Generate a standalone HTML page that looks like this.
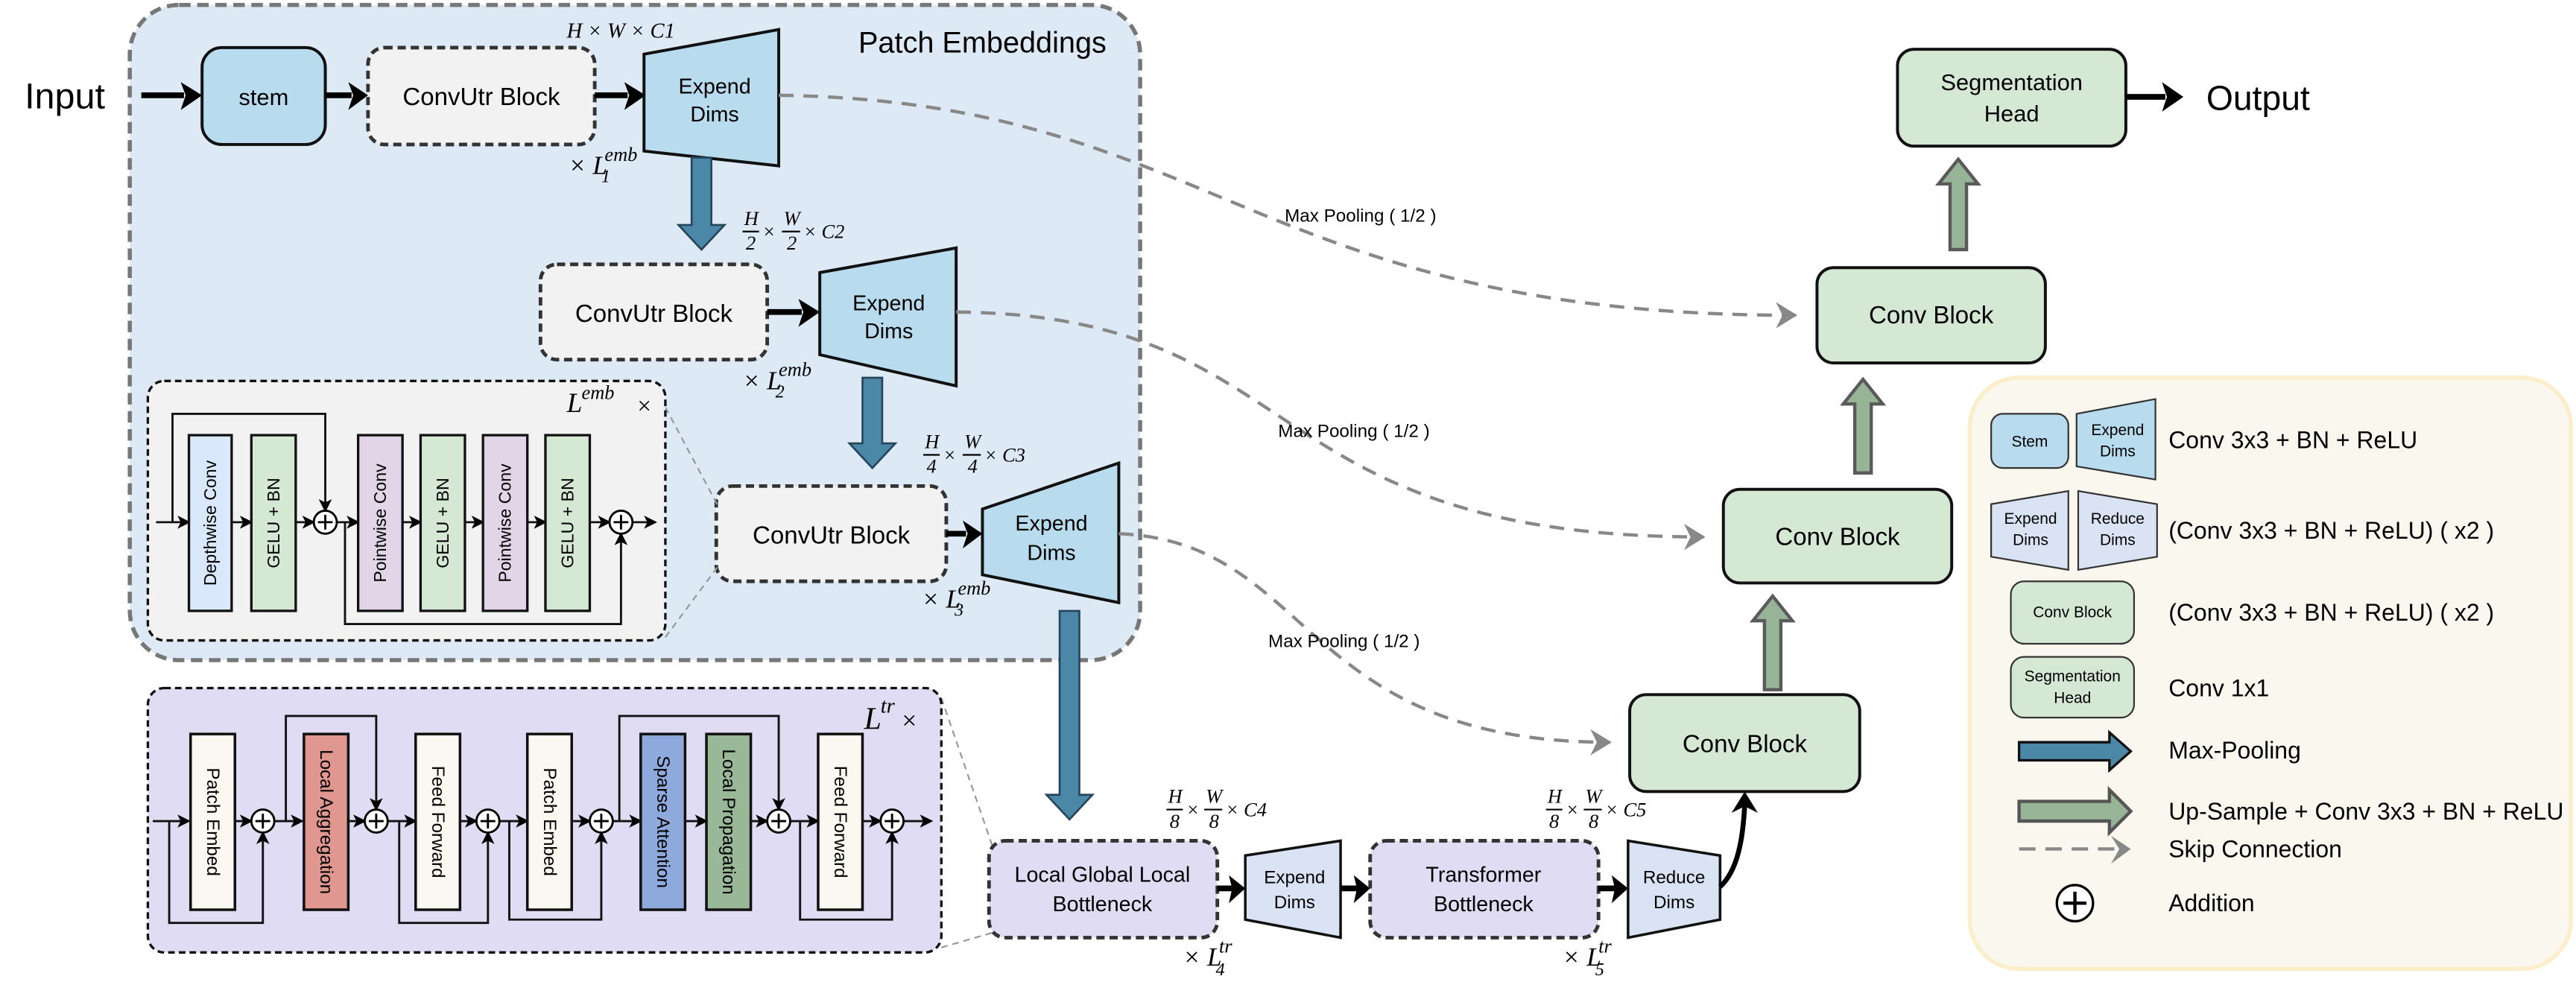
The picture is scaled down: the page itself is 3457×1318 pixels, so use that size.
<!DOCTYPE html>
<html><head><meta charset="utf-8"><style>
html,body{margin:0;padding:0;background:#fff;}
svg{display:block;}
text{font-family:"Liberation Sans",sans-serif;fill:#000;}
.m{font-family:"Liberation Serif",serif;font-style:italic;}
</style></head><body>
<svg width="3457" height="1318" viewBox="0 0 1568 598" preserveAspectRatio="none" xmlns="http://www.w3.org/2000/svg">
<defs>
<marker id="ah" markerWidth="8" markerHeight="8" refX="7" refY="4" orient="auto" markerUnits="userSpaceOnUse"><path d="M0,0 L8,4 L0,8 L2,4 Z" fill="#000"/></marker>
<marker id="gh" markerWidth="14" markerHeight="16" refX="12" refY="8" orient="auto" markerUnits="userSpaceOnUse"><path d="M0,0 L13,8 L0,16 L4,8 Z" fill="#888"/></marker>
</defs>

<rect x="79" y="3" width="615" height="399" rx="30" fill="#dde9f5" stroke="#777" stroke-width="2.5" stroke-dasharray="7,4"/>
<text x="598" y="32" font-size="18" text-anchor="middle">Patch Embeddings</text>

<text x="15" y="66" font-size="22">Input</text>
<line x1="86" y1="58" x2="112" y2="58" stroke="#000" stroke-width="3.5"/>
<path d="M110,50 L123,58 L110,67 L113,58Z" fill="#000"/>
<rect x="123" y="29" width="75" height="59" rx="12" fill="#b9dbee" stroke="#111" stroke-width="1.8"/>
<text x="160.5" y="64" font-size="14" text-anchor="middle">stem</text>
<line x1="198" y1="58" x2="214" y2="58" stroke="#000" stroke-width="3.5"/>
<path d="M212,50 L224,58 L212,67 L215,58Z" fill="#000"/>
<rect x="224" y="29" width="138" height="59" rx="10" fill="#f2f2f2" stroke="#333" stroke-width="2.2" stroke-dasharray="5,3"/>
<text x="293" y="64" font-size="15" text-anchor="middle">ConvUtr Block</text>
<line x1="362" y1="58" x2="382" y2="58" stroke="#000" stroke-width="3.5"/>
<path d="M380,50 L393,58 L380,67 L383,58Z" fill="#000"/>
<polygon points="392,33 474,18 474,101 392,92" fill="#b9dbee" stroke="#111" stroke-width="1.8"/>
<text x="435" y="57" font-size="13" text-anchor="middle">Expend</text>
<text x="435" y="74" font-size="13" text-anchor="middle">Dims</text>
<text class="m" x="345" y="23" font-size="13">H × W × C1</text>
<text class="m" x="346" y="106" font-size="16">× L</text><text class="m" x="368" y="98" font-size="12">emb</text><text class="m" x="366" y="111" font-size="11">1</text>

<path d="M421,96 H433 V137 H441 L427,152 L413,137 H421 Z" fill="#4b88a8" stroke="#26455a" stroke-width="1.2"/>
<text class="m" x="453" y="137" font-size="12">H</text><line x1="452" y1="141" x2="462" y2="141" stroke="#000"/><text class="m" x="454" y="152" font-size="12">2</text>
<text class="m" x="464" y="145" font-size="12">×</text>
<text class="m" x="477" y="137" font-size="12">W</text><line x1="476" y1="141" x2="487" y2="141" stroke="#000"/><text class="m" x="479" y="152" font-size="12">2</text>
<text class="m" x="489" y="145" font-size="12">× C2</text>

<rect x="329" y="161" width="138" height="58" rx="10" fill="#f2f2f2" stroke="#333" stroke-width="2.2" stroke-dasharray="5,3"/>
<text x="398" y="196" font-size="15" text-anchor="middle">ConvUtr Block</text>
<line x1="467" y1="190" x2="488" y2="190" stroke="#000" stroke-width="3.5"/>
<path d="M486,182 L499,190 L486,199 L489,190Z" fill="#000"/>
<polygon points="499,166 582,151 582,235 499,216" fill="#b9dbee" stroke="#111" stroke-width="1.8"/>
<text x="541" y="189" font-size="13" text-anchor="middle">Expend</text>
<text x="541" y="206" font-size="13" text-anchor="middle">Dims</text>
<text class="m" x="452" y="237" font-size="16">× L</text><text class="m" x="474" y="229" font-size="12">emb</text><text class="m" x="472" y="242" font-size="11">2</text>

<path d="M525,230 H537 V270 H545 L531,285 L517,270 H525 Z" fill="#4b88a8" stroke="#26455a" stroke-width="1.2"/>
<text class="m" x="563" y="273" font-size="12">H</text><line x1="562" y1="277" x2="572" y2="277" stroke="#000"/><text class="m" x="564" y="288" font-size="12">4</text>
<text class="m" x="574" y="281" font-size="12">×</text>
<text class="m" x="587" y="273" font-size="12">W</text><line x1="586" y1="277" x2="597" y2="277" stroke="#000"/><text class="m" x="589" y="288" font-size="12">4</text>
<text class="m" x="599" y="281" font-size="12">× C3</text>

<rect x="436" y="296" width="140" height="58" rx="10" fill="#f2f2f2" stroke="#333" stroke-width="2.2" stroke-dasharray="5,3"/>
<text x="506" y="331" font-size="15" text-anchor="middle">ConvUtr Block</text>
<line x1="576" y1="325" x2="588" y2="325" stroke="#000" stroke-width="3.5"/>
<path d="M586,317 L598,325 L586,334 L589,325Z" fill="#000"/>
<polygon points="598,310 681,282 681,367 598,350" fill="#b9dbee" stroke="#111" stroke-width="1.8"/>
<text x="640" y="323" font-size="13" text-anchor="middle">Expend</text>
<text x="640" y="341" font-size="13" text-anchor="middle">Dims</text>
<text class="m" x="561" y="370" font-size="16">× L</text><text class="m" x="583" y="362" font-size="12">emb</text><text class="m" x="581" y="375" font-size="11">3</text>

<line x1="405" y1="248" x2="437" y2="308" stroke="#999" stroke-width="1" stroke-dasharray="4,3"/>
<line x1="405" y1="388" x2="437" y2="345" stroke="#999" stroke-width="1" stroke-dasharray="4,3"/>
<rect x="90" y="232" width="315" height="158" rx="10" fill="#f2f2f2" stroke="#111" stroke-width="1.5" stroke-dasharray="4,2.5"/>
<text class="m" x="345" y="251" font-size="17">L</text><text class="m" x="354" y="243" font-size="12">emb</text><text class="m" x="387" y="252" font-size="15">×</text>
<g stroke="#111" stroke-width="1.3" fill="none">
<line x1="95" y1="318" x2="115" y2="318" marker-end="url(#ah)"/>
<polyline points="105,318 105,252 198,252 198,311" marker-end="url(#ah)"/>
<line x1="141" y1="318" x2="153" y2="318" marker-end="url(#ah)"/>
<line x1="180" y1="318" x2="191" y2="318" marker-end="url(#ah)"/>
<line x1="205" y1="318" x2="218" y2="318" marker-end="url(#ah)"/>
<polyline points="210,318 210,380 378,380 378,325" marker-end="url(#ah)"/>
<line x1="245" y1="318" x2="256" y2="318" marker-end="url(#ah)"/>
<line x1="283" y1="318" x2="294" y2="318" marker-end="url(#ah)"/>
<line x1="321" y1="318" x2="332" y2="318" marker-end="url(#ah)"/>
<line x1="359" y1="318" x2="371" y2="318" marker-end="url(#ah)"/>
<line x1="385" y1="318" x2="399" y2="318" marker-end="url(#ah)"/>
</g>
<g stroke="#111" stroke-width="1.5">
<rect x="115" y="265" width="26" height="107" fill="#dae8fc"/>
<rect x="153" y="265" width="27" height="107" fill="#d5e8d4"/>
<rect x="218" y="265" width="27" height="107" fill="#e1d5e7"/>
<rect x="256" y="265" width="27" height="107" fill="#d5e8d4"/>
<rect x="294" y="265" width="27" height="107" fill="#e1d5e7"/>
<rect x="332" y="265" width="27" height="107" fill="#d5e8d4"/>
</g>
<g font-size="10.5" text-anchor="middle">
<text transform="translate(131.5,318.5) rotate(-90)">Depthwise Conv</text>
<text transform="translate(170,318.5) rotate(-90)">GELU + BN</text>
<text transform="translate(235,318.5) rotate(-90)">Pointwise Conv</text>
<text transform="translate(273,318.5) rotate(-90)">GELU + BN</text>
<text transform="translate(311,318.5) rotate(-90)">Pointwise Conv</text>
<text transform="translate(349,318.5) rotate(-90)">GELU + BN</text>
</g>
<g stroke="#000" stroke-width="1.3">
<circle cx="198" cy="318" r="7" fill="#fff"/><line x1="193.5" y1="318" x2="202.5" y2="318"/><line x1="198" y1="313.5" x2="198" y2="322.5"/>
<circle cx="378" cy="318" r="7" fill="#fff"/><line x1="373.5" y1="318" x2="382.5" y2="318"/><line x1="378" y1="313.5" x2="378" y2="322.5"/>
</g>

<path d="M645,372 H657 V484 H665 L651,499 L637,484 H645 Z" fill="#4b88a8" stroke="#26455a" stroke-width="1.2"/>

<line x1="573" y1="425" x2="604" y2="515" stroke="#999" stroke-width="1" stroke-dasharray="4,3"/>
<line x1="573" y1="577" x2="604" y2="568" stroke="#999" stroke-width="1" stroke-dasharray="4,3"/>
<rect x="90" y="419" width="483" height="161" rx="10" fill="#e0dcf4" stroke="#111" stroke-width="1.5" stroke-dasharray="4,2.5"/>
<text class="m" x="526" y="444" font-size="19">L</text><text class="m" x="536" y="434" font-size="13">tr</text><text class="m" x="548" y="444" font-size="16">×</text>
<g stroke="#111" stroke-width="1.3" fill="none">
<line x1="93" y1="500" x2="115" y2="500" marker-end="url(#ah)"/>
<polyline points="103,500 103,562 160,562 160,507" marker-end="url(#ah)"/>
<line x1="143" y1="500" x2="153" y2="500" marker-end="url(#ah)"/>
<line x1="167" y1="500" x2="184" y2="500" marker-end="url(#ah)"/>
<polyline points="174,500 174,436 229,436 229,493" marker-end="url(#ah)"/>
<line x1="212" y1="500" x2="222" y2="500" marker-end="url(#ah)"/>
<line x1="236" y1="500" x2="253" y2="500" marker-end="url(#ah)"/>
<polyline points="243,500 243,562 297,562 297,507" marker-end="url(#ah)"/>
<line x1="280" y1="500" x2="290" y2="500" marker-end="url(#ah)"/>
<line x1="304" y1="500" x2="321" y2="500" marker-end="url(#ah)"/>
<polyline points="310,500 310,560 366,560 366,507" marker-end="url(#ah)"/>
<line x1="348" y1="500" x2="359" y2="500" marker-end="url(#ah)"/>
<line x1="373" y1="500" x2="390" y2="500" marker-end="url(#ah)"/>
<polyline points="377,500 377,436 474,436 474,493" marker-end="url(#ah)"/>
<line x1="417" y1="500" x2="430" y2="500" marker-end="url(#ah)"/>
<line x1="457" y1="500" x2="467" y2="500" marker-end="url(#ah)"/>
<line x1="481" y1="500" x2="498" y2="500" marker-end="url(#ah)"/>
<polyline points="487,500 487,560 543,560 543,507" marker-end="url(#ah)"/>
<line x1="525" y1="500" x2="536" y2="500" marker-end="url(#ah)"/>
<line x1="550" y1="500" x2="567" y2="500" marker-end="url(#ah)"/>
</g>
<g stroke="#111" stroke-width="1.6">
<rect x="116" y="447" width="27" height="107" fill="#faf8f0"/>
<rect x="185" y="447" width="27" height="107" fill="#e0978f"/>
<rect x="253" y="447" width="27" height="107" fill="#faf8f0"/>
<rect x="321" y="447" width="27" height="107" fill="#faf8f0"/>
<rect x="390" y="447" width="27" height="107" fill="#8eaadc"/>
<rect x="430" y="447" width="27" height="107" fill="#98b898"/>
<rect x="498" y="447" width="27" height="107" fill="#faf8f0"/>
</g>
<g font-size="11" text-anchor="middle">
<text transform="translate(126,500.5) rotate(90)">Patch Embed</text>
<text transform="translate(195,500.5) rotate(90)">Local Aggregation</text>
<text transform="translate(263,500.5) rotate(90)">Feed Forward</text>
<text transform="translate(331,500.5) rotate(90)">Patch Embed</text>
<text transform="translate(400,500.5) rotate(90)">Sparse Attention</text>
<text transform="translate(440,500.5) rotate(90)">Local Propagation</text>
<text transform="translate(508,500.5) rotate(90)">Feed Forward</text>
</g>
<g stroke="#000" stroke-width="1.3">
<circle cx="160" cy="500" r="7" fill="#fff"/><line x1="155.5" y1="500" x2="164.5" y2="500"/><line x1="160" y1="495.5" x2="160" y2="504.5"/>
<circle cx="229" cy="500" r="7" fill="#fff"/><line x1="224.5" y1="500" x2="233.5" y2="500"/><line x1="229" y1="495.5" x2="229" y2="504.5"/>
<circle cx="297" cy="500" r="7" fill="#fff"/><line x1="292.5" y1="500" x2="301.5" y2="500"/><line x1="297" y1="495.5" x2="297" y2="504.5"/>
<circle cx="366" cy="500" r="7" fill="#fff"/><line x1="361.5" y1="500" x2="370.5" y2="500"/><line x1="366" y1="495.5" x2="366" y2="504.5"/>
<circle cx="474" cy="500" r="7" fill="#fff"/><line x1="469.5" y1="500" x2="478.5" y2="500"/><line x1="474" y1="495.5" x2="474" y2="504.5"/>
<circle cx="543" cy="500" r="7" fill="#fff"/><line x1="538.5" y1="500" x2="547.5" y2="500"/><line x1="543" y1="495.5" x2="543" y2="504.5"/>
</g>

<rect x="602" y="512" width="139" height="59" rx="10" fill="#e0dcf4" stroke="#333" stroke-width="2.2" stroke-dasharray="5,3"/>
<text x="671" y="537" font-size="13" text-anchor="middle">Local Global Local</text>
<text x="671" y="555" font-size="13" text-anchor="middle">Bottleneck</text>
<line x1="741" y1="541" x2="750" y2="541" stroke="#000" stroke-width="3.5"/>
<path d="M748,533 L758,541 L748,550 L750,541Z" fill="#000"/>
<polygon points="758,521 816,512 816,571 758,560" fill="#dae3f3" stroke="#111" stroke-width="1.6"/>
<text x="788" y="538" font-size="11" text-anchor="middle">Expend</text>
<text x="788" y="553" font-size="11" text-anchor="middle">Dims</text>
<line x1="816" y1="541" x2="826" y2="541" stroke="#000" stroke-width="3.5"/>
<path d="M824,533 L834,541 L824,550 L826,541Z" fill="#000"/>
<rect x="834" y="512" width="139" height="59" rx="10" fill="#e0dcf4" stroke="#333" stroke-width="2.2" stroke-dasharray="5,3"/>
<text x="903" y="537" font-size="13" text-anchor="middle">Transformer</text>
<text x="903" y="555" font-size="13" text-anchor="middle">Bottleneck</text>
<line x1="973" y1="541" x2="983" y2="541" stroke="#000" stroke-width="3.5"/>
<path d="M981,533 L991,541 L981,550 L983,541Z" fill="#000"/>
<polygon points="991,512 1047,521 1047,560 991,571" fill="#dae3f3" stroke="#111" stroke-width="1.6"/>
<text x="1019" y="538" font-size="11" text-anchor="middle">Reduce</text>
<text x="1019" y="553" font-size="11" text-anchor="middle">Dims</text>
<path d="M1047,540 C1058,530 1061,510 1062,490" fill="none" stroke="#000" stroke-width="3"/>
<path d="M1054,495 L1062,482 L1070,495 L1062,491Z" fill="#000"/>

<text class="m" x="711" y="489" font-size="12">H</text><line x1="710" y1="493" x2="720" y2="493" stroke="#000"/><text class="m" x="712" y="504" font-size="12">8</text>
<text class="m" x="722" y="497" font-size="12">×</text>
<text class="m" x="734" y="489" font-size="12">W</text><line x1="733" y1="493" x2="744" y2="493" stroke="#000"/><text class="m" x="736" y="504" font-size="12">8</text>
<text class="m" x="746" y="497" font-size="12">× C4</text>
<text class="m" x="942" y="489" font-size="12">H</text><line x1="941" y1="493" x2="951" y2="493" stroke="#000"/><text class="m" x="943" y="504" font-size="12">8</text>
<text class="m" x="953" y="497" font-size="12">×</text>
<text class="m" x="965" y="489" font-size="12">W</text><line x1="964" y1="493" x2="975" y2="493" stroke="#000"/><text class="m" x="967" y="504" font-size="12">8</text>
<text class="m" x="977" y="497" font-size="12">× C5</text>
<text class="m" x="720" y="588" font-size="16">× L</text><text class="m" x="742" y="580" font-size="12">tr</text><text class="m" x="740" y="594" font-size="11">4</text>
<text class="m" x="951" y="588" font-size="16">× L</text><text class="m" x="973" y="580" font-size="12">tr</text><text class="m" x="971" y="594" font-size="11">5</text>

<rect x="992" y="423" width="140" height="59" rx="10" fill="#d5e8d4" stroke="#111" stroke-width="1.8"/>
<text x="1062" y="458" font-size="15" text-anchor="middle">Conv Block</text>
<rect x="1049" y="298" width="139" height="57" rx="10" fill="#d5e8d4" stroke="#111" stroke-width="1.8"/>
<text x="1118.5" y="332" font-size="15" text-anchor="middle">Conv Block</text>
<rect x="1106" y="163" width="139" height="58" rx="10" fill="#d5e8d4" stroke="#111" stroke-width="1.8"/>
<text x="1175.5" y="197" font-size="15" text-anchor="middle">Conv Block</text>
<rect x="1155" y="30" width="139" height="59" rx="10" fill="#d5e8d4" stroke="#111" stroke-width="1.8"/>
<text x="1224.5" y="55" font-size="14" text-anchor="middle">Segmentation</text>
<text x="1224.5" y="74" font-size="14" text-anchor="middle">Head</text>
<line x1="1294" y1="59" x2="1318" y2="59" stroke="#000" stroke-width="3.5"/>
<path d="M1316,50 L1329,59 L1316,68 L1319,59Z" fill="#000"/>
<text x="1343" y="67" font-size="21">Output</text>

<g fill="#97b596" stroke="#5a5a5a" stroke-width="2">
<path d="M1074,420 V378 H1067 L1079,363 L1091,378 H1084 V420 Z"/>
<path d="M1129,288 V246 H1122 L1134,231 L1146,246 H1139 V288 Z"/>
<path d="M1187,152 V112 H1180 L1192,97 L1204,112 H1197 V152 Z"/>
</g>

<g fill="none" stroke="#888" stroke-width="2" stroke-dasharray="9,6">
<path d="M474,58 C740,62 760,192 1093,192" marker-end="url(#gh)"/>
<path d="M582,190 C800,192 760,327 1037,327" marker-end="url(#gh)"/>
<path d="M681,325 C800,330 790,452 980,452" marker-end="url(#gh)"/>
</g>
<text x="782" y="135" font-size="11">Max Pooling ( 1/2 )</text>
<text x="778" y="266" font-size="11">Max Pooling ( 1/2 )</text>
<text x="772" y="394" font-size="11">Max Pooling ( 1/2 )</text>

<rect x="1199" y="230" width="366" height="360" rx="30" fill="#faf7ef" stroke="#fbeecb" stroke-width="2.5"/>
<rect x="1212" y="252" width="47" height="33" rx="7" fill="#b9dbee" stroke="#333" stroke-width="1"/>
<text x="1235.5" y="272" font-size="9.5" text-anchor="middle">Stem</text>
<polygon points="1264,252 1312,243 1312,292 1264,284" fill="#b9dbee" stroke="#333" stroke-width="1"/>
<text x="1289" y="265" font-size="9.5" text-anchor="middle">Expend</text>
<text x="1289" y="278" font-size="9.5" text-anchor="middle">Dims</text>
<text x="1320" y="273" font-size="14.5">Conv 3x3 + BN + ReLU</text>
<polygon points="1212,307 1259,299 1259,347 1212,339" fill="#dae3f3" stroke="#333" stroke-width="1"/>
<text x="1236" y="319" font-size="9.5" text-anchor="middle">Expend</text>
<text x="1236" y="332" font-size="9.5" text-anchor="middle">Dims</text>
<polygon points="1265,299 1313,307 1313,339 1265,347" fill="#dae3f3" stroke="#333" stroke-width="1"/>
<text x="1289" y="319" font-size="9.5" text-anchor="middle">Reduce</text>
<text x="1289" y="332" font-size="9.5" text-anchor="middle">Dims</text>
<text x="1320" y="328" font-size="14.5">(Conv 3x3 + BN + ReLU) ( x2 )</text>
<rect x="1224" y="354" width="75" height="38" rx="8" fill="#d5e8d4" stroke="#333" stroke-width="1"/>
<text x="1261.5" y="376" font-size="9.5" text-anchor="middle">Conv Block</text>
<text x="1320" y="378" font-size="14.5">(Conv 3x3 + BN + ReLU) ( x2 )</text>
<rect x="1224" y="400" width="75" height="37" rx="8" fill="#d5e8d4" stroke="#333" stroke-width="1"/>
<text x="1261.5" y="415" font-size="9.5" text-anchor="middle">Segmentation</text>
<text x="1261.5" y="428" font-size="9.5" text-anchor="middle">Head</text>
<text x="1320" y="424" font-size="14.5">Conv 1x1</text>
<path d="M1229,452 H1284 V446 L1297,457.5 L1284,469 V463 H1229 Z" fill="#4b88a8" stroke="#111" stroke-width="1.5"/>
<text x="1320" y="462" font-size="14.5">Max-Pooling</text>
<path d="M1229,488 H1284 V481 L1297,494 L1284,507 V500 H1229 Z" fill="#97b596" stroke="#555" stroke-width="2"/>
<text x="1320" y="499" font-size="14.5">Up-Sample + Conv 3x3 + BN + ReLU</text>
<line x1="1229" y1="517" x2="1287" y2="517" stroke="#888" stroke-width="2" stroke-dasharray="10,6"/>
<path d="M1285,509 L1297,517 L1285,526 L1290,517Z" fill="#888"/>
<text x="1320" y="522" font-size="14.5">Skip Connection</text>
<circle cx="1263" cy="550" r="11" fill="#fff" stroke="#000" stroke-width="1.5"/>
<line x1="1256" y1="550" x2="1270" y2="550" stroke="#000" stroke-width="2"/><line x1="1263" y1="543" x2="1263" y2="557" stroke="#000" stroke-width="2"/>
<text x="1320" y="555" font-size="14.5">Addition</text>
</svg>
</body></html>
